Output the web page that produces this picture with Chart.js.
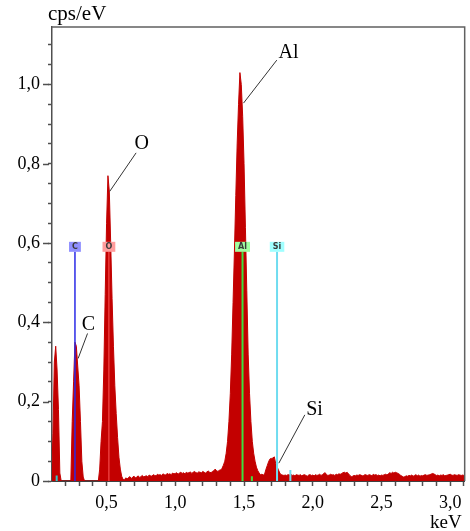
<!DOCTYPE html>
<html><head><meta charset="utf-8">
<script src="https://cdn.jsdelivr.net/npm/chart.js@4.4.1/dist/chart.umd.min.js"></script>
<style>html,body{margin:0;padding:0;background:#fff;overflow:hidden}</style>
</head><body>
<canvas id="c" width="470" height="531"></canvas>
<script>
// ---- DATA ----
const channelStartKeV = 0.10;
const channelWidthKeV = 0.01;
// cps/eV per 10 eV channel, 0.10 .. 3.10 keV
const counts = [
 0, 0.12, 0.30, 0.34, 0.28, 0.18, 0.02, 0, 0, 0,
 0, 0, 0, 0, 0, 0.15, 0.25, 0.35, 0.34, 0.29,
 0.24, 0.15, 0.05, 0.01, 0, 0, 0, 0, 0, 0,
 0, 0, 0, 0, 0, 0.03, 0.10, 0.15, 0.28, 0.47,
 0.65, 0.77, 0.73, 0.60, 0.46, 0.34, 0.24, 0.17, 0.11, 0.06,
 0.03, 0.012, 0.004, 0.003, 0.008, 0.005, 0.009, 0.011, 0.006, 0.010,
 0.012, 0.008, 0.010, 0.013, 0.009, 0.011, 0.014, 0.010, 0.012, 0.013,
 0.011, 0.015, 0.013, 0.012, 0.016, 0.014, 0.013, 0.017, 0.015, 0.016,
 0.014, 0.018, 0.016, 0.015, 0.019, 0.017, 0.018, 0.016, 0.020, 0.018,
 0.019, 0.021, 0.017, 0.020, 0.022, 0.019, 0.021, 0.018, 0.022, 0.020,
 0.021, 0.023, 0.019, 0.022, 0.024, 0.021, 0.020, 0.023, 0.022, 0.021,
 0.024, 0.022, 0.020, 0.023, 0.025, 0.022, 0.021, 0.024, 0.026, 0.030,
 0.026, 0.024, 0.027, 0.028, 0.032, 0.040, 0.050, 0.070, 0.100, 0.150,
 0.22, 0.32, 0.45, 0.58, 0.72, 0.85, 0.95, 1.03, 1.00, 0.92,
 0.80, 0.64, 0.48, 0.32, 0.22, 0.15, 0.10, 0.07, 0.05, 0.035,
 0.026, 0.020, 0.016, 0.017, 0.015, 0.018, 0.030, 0.040, 0.050, 0.056,
 0.057, 0.058, 0.061, 0.045, 0.036, 0.028, 0.020, 0.016, 0.015, 0.014,
 0.015, 0.014, 0.016, 0.015, 0.017, 0.014, 0.015, 0.013, 0.016, 0.015,
 0.014, 0.016, 0.013, 0.015, 0.016, 0.014, 0.012, 0.015, 0.016, 0.014,
 0.015, 0.013, 0.016, 0.014, 0.015, 0.017, 0.014, 0.016, 0.019, 0.021,
 0.016, 0.014, 0.015, 0.017, 0.015, 0.016, 0.014, 0.017, 0.016, 0.018,
 0.017, 0.019, 0.021, 0.022, 0.020, 0.022, 0.018, 0.014, 0.011, 0.012,
 0.014, 0.013, 0.015, 0.014, 0.016, 0.015, 0.013, 0.014, 0.016, 0.015,
 0.014, 0.016, 0.015, 0.013, 0.017, 0.015, 0.016, 0.014, 0.015, 0.013,
 0.015, 0.014, 0.016, 0.017, 0.015, 0.018, 0.021, 0.019, 0.022, 0.020,
 0.022, 0.021, 0.019, 0.017, 0.014, 0.012, 0.010, 0.011, 0.013, 0.012,
 0.014, 0.013, 0.015, 0.012, 0.014, 0.016, 0.013, 0.015, 0.012, 0.014,
 0.013, 0.015, 0.016, 0.014, 0.015, 0.016, 0.017, 0.019, 0.018, 0.016,
 0.014, 0.015, 0.013, 0.015, 0.014, 0.016, 0.013, 0.014, 0.015, 0.016,
 0.017, 0.015, 0.014, 0.016, 0.015, 0.014, 0.016, 0.015, 0.014, 0.015, 0.014
];
// element line markers (keV)
const elementNames    = ['C', 'O', 'Al', 'Si'];
const elementEnergies = [0.270, 0.517, 1.489, 1.740];
const elementLineTop  = 0.578;   // cps/eV where the marker line ends
// short secondary-line markers
const minorMarkerEnergies = [0.137, 1.557, 1.837];
const minorMarkerHeights  = [0.014, 0.012, 0.028];
// peak annotations: label and the point on the peak the leader touches
const annotLabels  = ['C', 'O', 'Al', 'Si'];
const annotEnergy  = [0.293, 0.522, 1.496, 1.753];
const annotValue   = [0.309, 0.730, 0.953, 0.045];
// axis
const xTickMajor = [0.5, 1.0, 1.5, 2.0, 2.5, 3.0];
const yTickMajor = [0, 0.2, 0.4, 0.6, 0.8, 1.0];
const xTitle = 'keV';
const yTitle = 'cps/eV';

// ---- STYLE / LAYOUT ----
const SERIF = "'Liberation Serif','Times New Roman',serif";
const elemLineColors = ['#2a2ae6', '#ff5a5a', '#3ee03e', '#6fdcf0'];
const elemLineWidths = [1.5, 1, 2, 2];
const elemBoxColors  = ['#9090ff', '#ff9c9c', '#a0ffa0', '#a0ffff'];
const minorMarkerColors = ['#30c8c8', '#3ee03e', '#6fdcf0'];
const annotLeader = [[9.4, -25], [26.5, -38.7], [33.3, -43], [26, -48.3]];
const annotText   = [[-5.7, -3.3], [-1.5, -3.5], [1.7, -2], [1.3, 0]];

const specData = counts.map((v, i) => ({x: channelStartKeV + i * channelWidthKeV, y: v}));
const datasets = [{
  type: 'line', data: specData, stepped: false, fill: 'origin',
  backgroundColor: '#c30000', borderColor: '#c30000', borderWidth: 1,
  pointRadius: 0, order: 5
}];
elementEnergies.forEach((e, i) => datasets.push({
  type: 'line',
  data: [{x: e, y: 0}, {x: e, y: elementLineTop}], borderColor: elemLineColors[i],
  borderWidth: elemLineWidths[i], pointRadius: 0, fill: false, order: 1
}));
minorMarkerEnergies.forEach((e, i) => datasets.push({
  type: 'line',
  data: [{x: e, y: 0}, {x: e, y: minorMarkerHeights[i]}], borderColor: minorMarkerColors[i],
  borderWidth: 2, pointRadius: 0, fill: false, order: 1
}));

const near = (v, arr) => arr.some(a => Math.abs(a - v) < 1e-6);
const fmt = v => v === 0 ? '0' : v.toFixed(1).replace('.', ',');

const overlay = {
  id: 'overlay',
  afterDatasetsDraw(chart) {
    const {ctx, scales: {x, y}} = chart;
    ctx.save();
    ctx.font = "bold 8px 'DejaVu Sans',sans-serif";
    ctx.textAlign = 'center'; ctx.textBaseline = 'middle';
    elementNames.forEach((n, i) => {
      const px = x.getPixelForValue(elementEnergies[i]);
      const pb = y.getPixelForValue(elementLineTop);
      const w = Math.max(11.5, ctx.measureText(n).width + 6), h = 10;
      ctx.fillStyle = elemBoxColors[i];
      ctx.fillRect(px - w / 2, pb - h, w, h);
      ctx.fillStyle = '#3a3a3a';
      ctx.fillText(n, px, pb - h / 2 + 0.5);
    });
    ctx.strokeStyle = '#333'; ctx.lineWidth = 1;
    ctx.font = '20px ' + SERIF; ctx.fillStyle = '#000';
    ctx.textAlign = 'left'; ctx.textBaseline = 'alphabetic';
    annotLabels.forEach((t, i) => {
      const ax = x.getPixelForValue(annotEnergy[i]);
      const ay = y.getPixelForValue(annotValue[i]);
      const sx = ax + annotLeader[i][0], sy = ay + annotLeader[i][1];
      ctx.beginPath(); ctx.moveTo(sx, sy); ctx.lineTo(ax, ay); ctx.stroke();
      ctx.fillText(t, sx + annotText[i][0], sy + annotText[i][1]);
    });
    ctx.restore();
  },
  afterDraw(chart) {
    const {ctx, chartArea: a, scales: {y}} = chart;
    ctx.save();
    ctx.strokeStyle = '#606060'; ctx.lineWidth = 1.5;
    ctx.beginPath();
    ctx.moveTo(a.left, a.top); ctx.lineTo(a.right, a.top); ctx.lineTo(a.right, a.bottom);
    ctx.stroke();
    ctx.strokeStyle = '#505050'; ctx.lineWidth = 1.5;
    yTickMajor.forEach(v => {
      const py = Math.round(y.getPixelForValue(v)) + 0.5;
      ctx.beginPath(); ctx.moveTo(a.left - 9, py); ctx.lineTo(a.left - 3, py); ctx.stroke();
    });
    ctx.fillStyle = '#000'; ctx.textAlign = 'left'; ctx.textBaseline = 'alphabetic';
    ctx.font = '21px ' + SERIF;
    ctx.fillText(yTitle, 48, 20);
    ctx.font = '19px ' + SERIF;
    ctx.fillText(xTitle, 430, 528);
    ctx.restore();
  }
};

new Chart(document.getElementById('c'), {
  type: 'line',
  data: {datasets},
  options: {
    responsive: false, animation: false, devicePixelRatio: 1,
    layout: {padding: {top: 27, right: 2, left: 0, bottom: 0}},
    plugins: {legend: {display: false}, tooltip: {enabled: false}},
    elements: {line: {tension: 0}},
    scales: {
      x: {
        type: 'linear', min: 0.103, max: 3.105,
        afterFit: s => { s.height = 50; },
        border: {display: true, color: '#404040', width: 2},
        grid: {display: true, drawOnChartArea: false, drawTicks: true, tickLength: 5, tickColor: '#505050', tickWidth: 1.5},
        ticks: {stepSize: 0.1, includeBounds: false, autoSkip: false, maxRotation: 0, padding: 6,
          color: '#000', font: {family: SERIF, size: 18},
          callback: v => near(v, xTickMajor) ? fmt(v) : ''}
      },
      y: {
        type: 'linear', min: 0, max: 1.145,
        afterFit: s => { s.width = 52; },
        border: {display: true, color: '#505050', width: 1.5},
        grid: {display: true, drawOnChartArea: false, drawTicks: true, tickLength: 4, tickColor: '#505050', tickWidth: 1.5},
        ticks: {stepSize: 0.05, includeBounds: false, autoSkip: false, padding: 8,
          color: '#000', font: {family: SERIF, size: 18},
          callback: v => near(v, yTickMajor) ? fmt(v) : ''}
      }
    }
  },
  plugins: [overlay]
});
</script>
</body></html>
